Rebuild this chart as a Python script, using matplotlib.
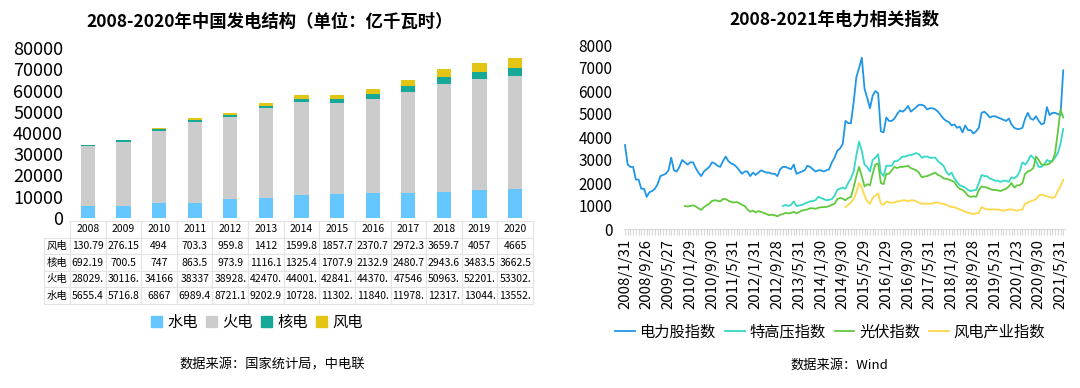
import numpy as np
import matplotlib
matplotlib.use('Agg')
import matplotlib.pyplot as plt
from matplotlib.patches import Patch
from matplotlib.lines import Line2D

plt.rcParams['font.family'] = ['Noto Sans CJK SC', 'DejaVu Sans']

# ---------------- left chart data ----------------
years = ['2008', '2009', '2010', '2011', '2012', '2013', '2014',
         '2015', '2016', '2017', '2018', '2019', '2020']
hydro = [5655.4, 5716.8, 6867, 6989.4, 8721.1, 9202.9, 10728.5,
         11302.5, 11840.5, 11978.5, 12317.5, 13044.5, 13552.5]
thermal = [28029.5, 30116.5, 34166, 38337, 38928.5, 42470.5, 44001.5,
           42841.5, 44370.5, 47546, 50963.5, 52201.5, 53302.5]
nuclear = [692.19, 700.5, 747, 863.5, 973.9, 1116.1, 1325.4,
           1707.9, 2132.9, 2480.7, 2943.6, 3483.5, 3662.5]
wind = [130.79, 276.15, 494, 703.3, 959.8, 1412, 1599.8,
        1857.7, 2370.7, 2972.3, 3659.7, 4057, 4665]
series_names = ['水电', '火电', '核电', '风电']

# ---------------- right chart data (monthly, 2008/1 - 2021/6) ----------------
tick_labels = ['2008/1/31', '2008/9/26', '2009/5/27', '2010/1/29', '2010/9/30',
               '2011/5/31', '2012/1/31', '2012/9/28', '2013/5/31', '2014/1/30',
               '2014/9/30', '2015/5/29', '2016/1/29', '2016/9/30', '2017/5/31',
               '2018/1/31', '2018/9/28', '2019/5/31', '2020/1/23', '2020/9/30',
               '2021/5/31']

power_idx = [3650, 2800, 2700, 2700, 2150, 2150, 1750, 1750, 1400, 1600,
             1650, 1750, 1950, 2300, 2350, 2400, 2550, 3100, 2550, 2500,
             2700, 3000, 2900, 2800, 2900, 2900, 2650, 2450, 2300, 2500,
             2600, 2700, 2900, 2850, 2750, 2700, 2950, 3150, 2950, 2850,
             2800, 2700, 2550, 2400, 2500, 2500, 2300, 2450, 2350, 2450,
             2550, 2500, 2450, 2450, 2400, 2400, 2300, 2600, 2700, 2700,
             2650, 2600, 2800, 2400, 2450, 2500, 2550, 2750, 2700, 2600,
             2500, 2550, 2550, 2500, 2550, 2600, 2900, 3100, 3400, 3500,
             3700, 4700, 4600, 4600, 5500, 6600, 7000, 7450, 6100, 5700,
             5250, 5800, 6000, 5900, 4250, 4200, 4850, 4700, 4700, 4800,
             5000, 5150, 5100, 5200, 5350, 5100, 5200, 5300, 5400, 5400,
             5350, 5200, 5250, 5250, 5200, 5100, 4950, 4800, 4700, 4650,
             4500, 4550, 4400, 4450, 4200, 4500, 4300, 4300, 4150, 4250,
             4400, 5050, 5100, 5000, 4850, 4900, 4900, 4850, 4800, 4750,
             4700, 4800, 4550, 4400, 4350, 4350, 4400, 4800, 5050, 4800,
             4750, 4900, 4700, 4550, 4600, 5300, 4950, 5050, 5050, 5000,
             4950, 6900]

uhv_start = 58
uhv_idx = [1000, 1050, 1000, 1050, 1200, 1000, 1020, 1050, 1100, 1150,
           1200, 1220, 1250, 1400, 1350, 1300, 1250, 1270, 1300, 1450,
           1700, 1750, 1800, 1750, 2000, 2200, 2500, 3200, 3800, 3400,
           2800, 2700, 2500, 3000, 3100, 3250, 2450, 2300, 2750, 2750,
           2750, 2950, 2950, 3050, 3150, 3150, 3200, 3220, 3250, 3300,
           3250, 3100, 3150, 3150, 3100, 3100, 3100, 2950, 2850, 2750,
           2500, 2350, 2450, 2200, 2050, 1900, 1850, 1800, 1700, 1650,
           1680, 1700, 2000, 2350, 2300, 2300, 2200, 2150, 2100, 2100,
           2050, 2100, 2100, 2050, 2250, 2200, 2300, 2500, 2900, 2800,
           2950, 3200, 3100, 2950, 2700, 2700, 2800, 3000, 2950, 2950,
           3100, 3300, 3700, 4350]

pv_start = 22
pv_idx = [1000, 980, 1000, 1030, 980, 900, 830, 950, 1030, 1100,
          1220, 1250, 1230, 1200, 1300, 1300, 1230, 1180, 1150, 1180,
          1120, 1050, 1000, 850, 750, 800, 720, 780, 740, 700,
          650, 600, 620, 600, 550, 620, 650, 700, 680, 700,
          750, 680, 740, 800, 830, 850, 900, 900, 880, 920,
          950, 950, 960, 1000, 1050, 1100, 1300, 1350, 1320, 1250,
          1350, 1400, 1800, 2300, 2700, 2300, 1850, 1950, 1900, 2400,
          2800, 2850, 2000, 1950, 2400, 2400, 2550, 2700, 2650, 2700,
          2700, 2720, 2750, 2650, 2600, 2550, 2450, 2250, 2280, 2300,
          2350, 2400, 2450, 2350, 2300, 2200, 2180, 2150, 2100, 2050,
          1850, 1750, 1700, 1600, 1450, 1400, 1420, 1400, 1700, 1850,
          1820, 1800, 1750, 1700, 1700, 1680, 1650, 1700, 1750, 1850,
          2000, 1800, 1900, 1900, 2000, 2400, 2500, 2550, 2650, 3150,
          3000, 2800, 2800, 2800, 2850, 2950, 3300, 4200, 5200, 4850]

wind_start = 81
wind_idx = [950, 1050, 1150, 1300, 1600, 2000, 1800, 1450, 1200, 1100,
            1350, 1450, 1550, 1100, 1050, 1200, 1150, 1150, 1150, 1200,
            1200, 1250, 1250, 1200, 1250, 1250, 1200, 1150, 1100, 1100,
            1100, 1100, 1100, 1150, 1150, 1100, 1100, 1050, 1000, 950,
            950, 900, 850, 800, 750, 700, 680, 650, 680, 700,
            950, 900, 850, 850, 850, 850, 850, 820, 800, 820,
            850, 850, 820, 800, 820, 850, 1100, 1150, 1200, 1250,
            1300, 1450, 1500, 1450, 1420, 1400, 1350, 1400, 1650, 1850,
            2150]

line_names = ['电力股指数', '特高压指数', '光伏指数', '风电产业指数']

# ---------------- figure ----------------
W, H = 1080, 388
fig = plt.figure(figsize=(W / 100, H / 100), dpi=100)

# ---- left: stacked bars + data table ----
bar_colors = ['#66C6FF', '#CCCCCC', '#17A998', '#E3C516']
axL = fig.add_axes([70 / W, 1 - 218 / H, 463 / W, 170 / H])
x = np.arange(len(years))
bottom = np.zeros(len(years))
for vals, c in zip([hydro, thermal, nuclear, wind], bar_colors):
    axL.bar(x, vals, 0.4, bottom=bottom, color=c, zorder=2)
    bottom = bottom + np.array(vals)
axL.set_xlim(-0.5, len(years) - 0.5)
axL.set_ylim(0, 80000)
axL.set_yticks(np.arange(0, 80001, 10000))
axL.tick_params(axis='y', length=0, labelsize=13, pad=5)
axL.set_xticks([])
for s in axL.spines.values():
    s.set_visible(False)

# data table
rows = [['风电'] + [str(v)[:6] for v in wind],
        ['核电'] + [str(v)[:6] for v in nuclear],
        ['火电'] + [str(v)[:6] for v in thermal],
        ['水电'] + [str(v)[:6] for v in hydro]]
lab_w = 26 / 463
tab_top = (218 - 221) / 170
tab_bot = (218 - 304) / 170
tbl = axL.table(cellText=rows, colLabels=[''] + years,
                colWidths=[lab_w] + [1 / 13] * 13,
                bbox=[-lab_w, tab_bot, 1 + lab_w, tab_top - tab_bot],
                cellLoc='center')
tbl.auto_set_font_size(False)
tbl.set_fontsize(7.5)
for (r, c), cell in tbl.get_celld().items():
    cell.set_edgecolor('#E3E3E3')
    cell.set_linewidth(0.8)
    cell.PAD = 0.02
    if r == 0 and c == 0:
        cell.visible_edges = ''

fig.legend([Patch(color=c) for c in bar_colors], series_names,
           loc='center', bbox_to_anchor=(257 / W, 1 - 322 / H), ncol=4,
           frameon=False, fontsize=11, handlelength=0.75, handleheight=0.75,
           handletextpad=0.35, columnspacing=0.5)

fig.text(270 / W, 1 - 22 / H, '2008-2020年中国发电结构（单位：亿千瓦时）',
         ha='center', va='center', fontsize=12.5, fontweight='bold')
fig.text(272 / W, 1 - 365 / H, '数据来源：国家统计局，中电联',
         ha='center', va='center', fontsize=9.5)

# ---- right: index lines ----
line_colors = ['#1F97E6', '#36D8C6', '#62C93E', '#FCD84A']
axR = fig.add_axes([623.6 / W, 1 - 229 / H, 441 / W, 184 / H])
n = len(power_idx)


def pad(start, vals):
    return np.r_[np.full(start, np.nan), np.array(vals, dtype=float)]


series = [np.array(power_idx, dtype=float), pad(uhv_start, uhv_idx),
          pad(pv_start, pv_idx), pad(wind_start, wind_idx)]
for y, c in zip(series, line_colors):
    axR.plot(np.arange(len(y)), y, color=c, lw=1.3)

axR.set_xlim(-0.5, n - 0.5)
axR.set_ylim(0, 8000)
axR.set_yticks(np.arange(0, 8001, 1000))
axR.tick_params(axis='y', length=0, labelsize=11, pad=8)
axR.set_xticks(np.arange(0, 8 * len(tick_labels), 8))
axR.set_xticklabels(tick_labels, rotation=90)
axR.set_xticks(np.arange(n), minor=True)
axR.tick_params(axis='x', which='both', direction='out', length=4,
                color='#D9D9D9', width=0.8)
axR.tick_params(axis='x', which='major', labelsize=10.8, pad=3)
for s in ['top', 'right', 'left']:
    axR.spines[s].set_visible(False)
axR.spines['bottom'].set_color('#D9D9D9')

fig.legend([Line2D([], [], color=c, lw=1.3) for c in line_colors], line_names,
           loc='center', bbox_to_anchor=(830 / W, 1 - 332 / H), ncol=4,
           frameon=False, fontsize=11, handlelength=1.3, handletextpad=0.3,
           columnspacing=0.6)

fig.text(834 / W, 1 - 20 / H, '2008-2021年电力相关指数',
         ha='center', va='center', fontsize=12.5, fontweight='bold')
fig.text(839 / W, 1 - 365 / H, '数据来源：Wind',
         ha='center', va='center', fontsize=9.5)

fig.savefig('out.png', dpi=100)
